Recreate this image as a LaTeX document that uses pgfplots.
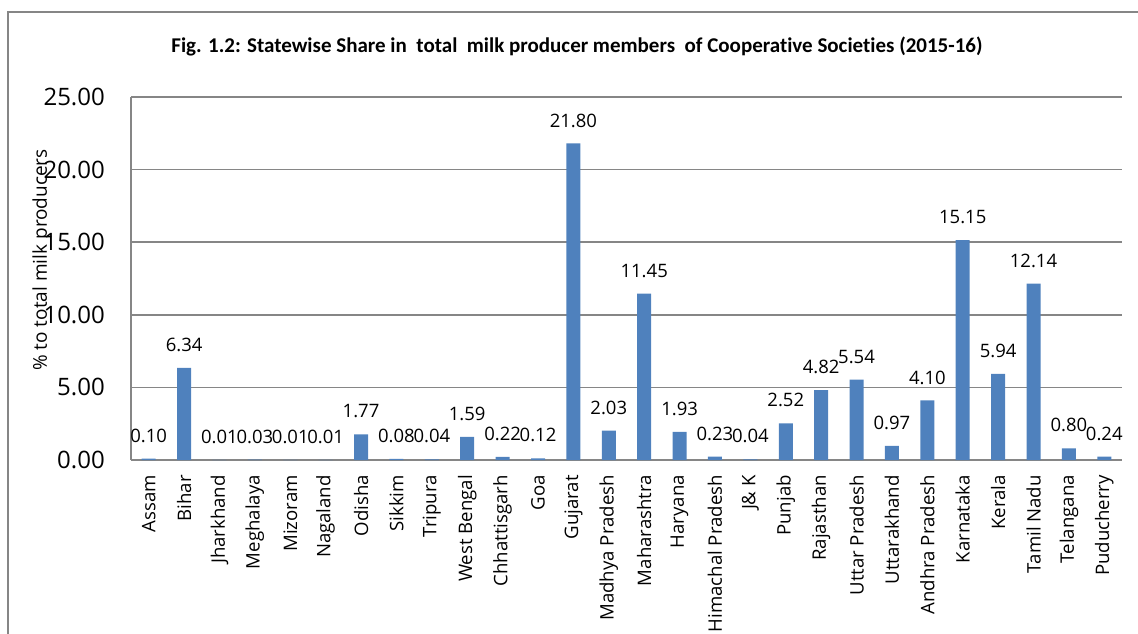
\documentclass[border=0pt]{standalone}
\usepackage{fontspec}
\setmainfont{Open Sans}
\newfontfamily\titlefont[Ligatures=CommonOff]{Carlito}
\usepackage{pgfplots}
\pgfplotsset{compat=1.18}
\definecolor{barblue}{RGB}{79,129,189}
\definecolor{gridgray}{RGB}{134,134,134}
\begin{document}
\begin{tikzpicture}[x=1pt,y=1pt]
\useasboundingbox (0,0) rectangle (1138,633);
\draw[gridgray, line width=1.5pt] (8,-10) -- (8,621) -- (1150,621);
\node[font=\titlefont\bfseries\fontsize{21}{24}\selectfont] at (577,587) {Fig. 1.2: Statewise Share in\ \ total\ \ milk producer members\ \ of Cooperative Societies (2015-16)};
\begin{axis}[
  at={(131pt,173pt)}, anchor=south west,
  scale only axis, width=991pt, height=363pt,
  xmin=-0.5, xmax=27.5, ymin=0, ymax=25,
  ytick={0,5,10,15,20,25},
  xtick={0,...,27},
  xticklabels={Assam,Bihar,Jharkhand,Meghalaya,Mizoram,Nagaland,Odisha,Sikkim,Tripura,West Bengal,Chhattisgarh,Goa,Gujarat,Madhya Pradesh,Maharashtra,Haryana,Himachal Pradesh,J\& K,Punjab,Rajasthan,Uttar Pradesh,Uttarakhand,Andhra Pradesh,Karnataka,Kerala,Tamil Nadu,Telangana,Puducherry},
  axis x line*=bottom, axis y line*=left,
  axis line style={gridgray, line width=1.5pt, -},
  major tick length=0pt,
  ymajorgrids, grid style={gridgray, line width=1.5pt},
  yticklabel style={inner sep=0pt, xshift=-26pt, font=\fontsize{24}{27}\selectfont,
    /pgf/number format/.cd, fixed, fixed zerofill, precision=2, assume math mode=true},
  x tick label style={inner sep=0pt, yshift=-15pt, rotate=90, anchor=east, font=\fontsize{18.6}{22}\selectfont},
  clip=false,
]
\addplot[ybar, fill=barblue, draw=none, bar width=14pt,
  nodes near coords,
  every node near coord/.append style={font=\fontsize{18.5}{22}\selectfont, inner sep=0pt, yshift=16pt, anchor=south,
    /pgf/number format/.cd, fixed, fixed zerofill, precision=2, assume math mode=true}]
coordinates {
(0,0.10) (1,6.34) (2,0.01) (3,0.03) (4,0.01) (5,0.01) (6,1.77) (7,0.08) (8,0.04) (9,1.59)
(10,0.22) (11,0.12) (12,21.80) (13,2.03) (14,11.45) (15,1.93) (16,0.23) (17,0.04) (18,2.52)
(19,4.82) (20,5.54) (21,0.97) (22,4.10) (23,15.15) (24,5.94) (25,12.14) (26,0.80) (27,0.24)
};
\end{axis}
\node[rotate=90, font=\fontsize{19}{22}\selectfont] at (42,373) {\% to total milk producers};
\end{tikzpicture}
\end{document}
